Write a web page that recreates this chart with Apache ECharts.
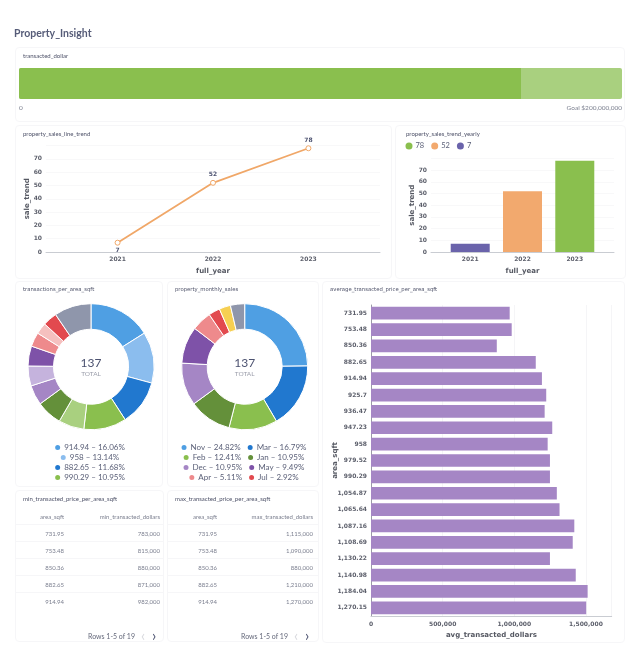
<!DOCTYPE html>
<html>
<head>
<meta charset="utf-8">
<title>Property_Insight</title>
<script src="https://cdn.jsdelivr.net/npm/echarts@6/dist/echarts.min.js"></script>
<style>
  html, body { margin: 0; padding: 0; background: #fff; }
  #page { position: relative; width: 636px; height: 650px; overflow: hidden; font-family: Lato, sans-serif; filter: blur(0.25px); }
  #heading { position: absolute; left: 14px; top: 27px; font-size: 10.5px; font-weight: 700; color: #565c78; }
  .card { position: absolute; background: #fff; border: 1px solid #f6f6f8; border-radius: 4px; box-sizing: border-box; }
  .chart { position: absolute; left: 0; top: 0; width: 100%; height: 100%; }
  .cap { position: absolute; left: 7px; top: 4px; font-size: 6px; color: #4d5168; white-space: nowrap; z-index: 2; }
  .cap.wide { font-family: "DejaVu Sans", sans-serif; font-size: 5.3px; }
  .cell { position: absolute; font-size: 6px; color: #7b7f8f; white-space: nowrap; transform: translate(-100%, -50%); }
  .rule { position: absolute; height: 1px; background: #f6f6f8; }
  .foot { position: absolute; font-size: 7px; color: #666a7c; white-space: nowrap; transform: translate(-100%, -50%); }
  .chev { position: absolute; font-size: 15px; transform: translate(-50%, -56%); }
</style>
</head>
<body>
<div id="page">
  <div id="heading">Property_Insight</div>
  <div class="card" style="left:15px;top:47px;width:610px;height:75px"><div class="cap" style="left:7px">transacted_dollar</div><div class="chart" id="bullet"></div></div>
  <div class="card" style="left:15px;top:125px;width:377px;height:154px"><div class="cap">property_sales_line_trend</div><div class="chart" id="lineTrend"></div></div>
  <div class="card" style="left:395px;top:125px;width:231px;height:154px"><div class="cap" style="left:10px">property_sales_trend_yearly</div><div class="chart" id="barTrend"></div></div>
  <div class="card" style="left:15px;top:281px;width:148px;height:206px"><div class="cap wide">transactions_per_area_sqft</div><div class="chart" id="pieArea"></div></div>
  <div class="card" style="left:167px;top:281px;width:152px;height:206px"><div class="cap wide">property_monthly_sales</div><div class="chart" id="pieMonth"></div></div>
  <div class="card" style="left:322px;top:281px;width:303px;height:362px"><div class="cap wide">average_transacted_price_per_area_sqft</div><div class="chart" id="hbar"></div></div>
  <div class="card" id="minTable" style="left:15px;top:490px;width:149px;height:152px"><div class="cap">min_transacted_price_per_area_sqft</div></div>
  <div class="card" id="maxTable" style="left:167px;top:490px;width:152px;height:152px"><div class="cap">max_transacted_price_per_area_sqft</div></div>
</div>
<script>
// data
var transacted = [166500000];
var goal = [200000000];

var years = [2021, 2022, 2023];
var saleTrend = [7, 52, 78];

var areaNames = ['914.94', '958', '882.65', '990.29', '1,087.16', '1,054.87', '947.23', '925.7', '753.48', '1,184.04', '850.36', '979.52', 'Other'];
var areaCounts = [22, 18, 16, 15, 9, 9, 7, 7, 7, 5, 4, 5, 13];
var areaLegendRows = [['914.94'], ['958'], ['882.65'], ['990.29']];

var monthNames = ['Nov', 'Mar', 'Feb', 'Jan', 'Dec', 'May', 'Apr', 'Jul', 'Jun', 'Other'];
var monthCounts = [34, 23, 17, 15, 15, 13, 7, 4, 4, 5];
var monthLegendRows = [['Nov', 'Mar'], ['Feb', 'Jan'], ['Dec', 'May'], ['Apr', 'Jul']];

var areaSqft = ['731.95', '753.48', '850.36', '882.65', '914.94', '925.7', '936.47', '947.23', '958', '979.52', '990.29', '1,054.87', '1,065.64', '1,087.16', '1,108.69', '1,130.22', '1,140.98', '1,184.04', '1,270.15'];
var avgDollars = [968000, 982000, 878000, 1150000, 1193000, 1223000, 1212000, 1265000, 1233000, 1249000, 1249000, 1297000, 1316000, 1419000, 1408000, 1249000, 1429000, 1512000, 1502000];

var tableAreas = ['731.95', '753.48', '850.36', '882.65', '914.94'];
var minDollars = ['783,000', '815,000', '880,000', '871,000', '982,000'];
var maxDollars = ['1,115,000', '1,090,000', '880,000', '1,210,000', '1,270,000'];

var colors = ['#4f9fe3', '#8bbdee', '#2178cf', '#8abf4e', '#a9d07f', '#64903a', '#a586c5', '#c5b3dd', '#7e52a8', '#ee8a8c', '#f5c0bf', '#e24a4f', '#8f96ab'];
var monthColors = ['#4f9fe3', '#2178cf', '#8abf4e', '#64903a', '#a586c5', '#7e52a8', '#ee8a8c', '#e24a4f', '#f6cf52', '#8f96ab'];

var axisFont = 'DejaVu Sans';
var tickStyle = { fontFamily: axisFont, fontSize: 6, fontWeight: 'bold', color: '#5c5f6b' };
var nameStyle = { fontFamily: axisFont, fontSize: 7, fontWeight: 'bold', color: '#555862' };

function init(id) {
  return echarts.init(document.getElementById(id), null, { renderer: 'canvas' });
}

function sum(list) {
  return list.reduce(function(a, b) { return a + b; }, 0);
}

// goal bar
init('bullet').setOption({
  animation: false,
  grid: { left: 3, right: 2, top: 20, height: 31, outerBoundsMode: 'none' },
  xAxis: {
    type: 'value', min: 0, max: goal[0],
    axisLine: { show: false }, axisTick: { show: false }, splitLine: { show: false },
    axisLabel: {
      customValues: [0, goal[0]], alignMinLabel: 'left', alignMaxLabel: 'right', margin: 5,
      fontFamily: 'Lato', fontSize: 6.5, color: '#7c8090',
      formatter: function(v) { return v === 0 ? '0' : 'Goal $' + v.toLocaleString('en-US'); }
    }
  },
  yAxis: { type: 'category', data: ['transacted_dollar'], show: false },
  series: [
    { type: 'bar', data: goal, barWidth: 31, barGap: '-100%', itemStyle: { color: '#a9d07f', borderRadius: 2 } },
    { type: 'bar', data: transacted, barWidth: 31, barGap: '-100%', itemStyle: { color: '#8abf4e', borderRadius: [2, 0, 0, 2] } }
  ]
});

function yearAxis() {
  return {
    type: 'value', min: 2020.25, max: 2023.75,
    name: 'full_year', nameLocation: 'middle', nameGap: 16, nameMoveOverlap: false, nameTextStyle: nameStyle,
    axisLine: { lineStyle: { color: '#c9ccd2' } },
    axisTick: { show: false },
    splitLine: { show: false },
    axisLabel: Object.assign({ customValues: years, margin: 4, formatter: function(v) { return String(v); } }, tickStyle)
  };
}

function saleAxis(gap) {
  return {
    type: 'value', min: 0, max: 80, interval: 10,
    name: 'sale_trend', nameLocation: 'middle', nameGap: gap, nameMoveOverlap: false, nameTextStyle: nameStyle,
    axisLine: { show: false }, axisTick: { show: false },
    splitLine: { lineStyle: { color: '#f8f8f9' } },
    axisLabel: Object.assign({ showMaxLabel: false, margin: 4 }, tickStyle)
  };
}

// yearly line
init('lineTrend').setOption({
  animation: false,
  grid: { left: 30, right: 11, top: 19.6, height: 106.4, outerBoundsMode: 'none' },
  xAxis: yearAxis(),
  yAxis: saleAxis(15),
  series: [{
    type: 'line',
    data: years.map(function(y, i) {
      return {
        value: [y, saleTrend[i]],
        label: { position: i === 0 ? 'bottom' : 'top', distance: 2 }
      };
    }),
    symbol: 'circle', symbolSize: 5,
    lineStyle: { color: '#f0a768', width: 1.8 },
    itemStyle: { color: '#fff', borderColor: '#f0a768', borderWidth: 1 },
    label: {
      show: true, fontFamily: axisFont, fontSize: 6, fontWeight: 'bold', color: '#4c5270',
      formatter: function(p) { return String(p.value[1]); }
    }
  }]
});

// yearly bars, one series per legend entry
var barColors = { 2021: '#6a63ab', 2022: '#f2a96e', 2023: '#8abf4e' };
init('barTrend').setOption({
  animation: false,
  grid: { left: 35, right: 11, top: 32.4, height: 93.6, outerBoundsMode: 'none' },
  legend: {
    left: 9.5, top: 16, padding: 0, icon: 'circle', itemWidth: 7, itemHeight: 7, itemGap: 7,
    data: [String(saleTrend[2]), String(saleTrend[1]), String(saleTrend[0])],
    textStyle: { fontFamily: 'Lato', fontSize: 7.5, color: '#5b6078', padding: [0, 0, 0, -2] }
  },
  xAxis: yearAxis(),
  yAxis: saleAxis(15),
  series: years.map(function(y, i) {
    return {
      type: 'bar', name: String(saleTrend[i]), barWidth: 39, barGap: '-100%',
      data: [[y, saleTrend[i]]], itemStyle: { color: barColors[y] }
    };
  })
});

function donut(id, names, counts, palette, rows, cx) {
  var total = sum(counts);
  var legendTop = [161, 171, 181, 191];
  init(id).setOption({
    animation: false,
    color: palette,
    legend: rows.map(function(row, i) {
      return {
        left: 'center', top: legendTop[i], padding: 0, icon: 'circle', itemWidth: 7, itemHeight: 7, itemGap: 5,
        data: row,
        formatter: function(name) {
          var pct = counts[names.indexOf(name)] / total * 100;
          return name + ' – ' + pct.toFixed(2) + '%';
        },
        textStyle: { fontFamily: 'Lato', fontSize: 8, color: '#5b6078', padding: [0, 0, 0, -2] }
      };
    }),
    graphic: [
      { type: 'text', x: cx, y: 81.5, style: { text: String(total), align: 'center', verticalAlign: 'middle', fontFamily: 'Lato', fontSize: 12, fill: '#4c5270' } },
      { type: 'text', x: cx, y: 92, style: { text: 'TOTAL', align: 'center', verticalAlign: 'middle', fontFamily: 'Lato', fontSize: 6.5, fill: '#9a9daa' } }
    ],
    series: [{
      type: 'pie', center: [cx, 84.7], radius: [37.5, 63],
      label: { show: false }, labelLine: { show: false },
      itemStyle: { borderColor: '#fff', borderWidth: 1 },
      data: names.map(function(n, i) { return { name: n, value: counts[i] }; })
    }]
  });
}
donut('pieArea', areaNames, areaCounts, colors, areaLegendRows, 75);
donut('pieMonth', monthNames, monthCounts, monthColors, monthLegendRows, 76.7);

// average price per area
init('hbar').setOption({
  animation: false,
  grid: { left: 48, right: 12.3, top: 23, height: 311, outerBoundsMode: 'none' },
  xAxis: {
    type: 'value', min: 0, max: 1680000, interval: 500000,
    name: 'avg_transacted_dollars', nameLocation: 'middle', nameGap: 16, nameMoveOverlap: false, nameTextStyle: nameStyle,
    axisLine: { show: true, lineStyle: { color: '#c9ccd2' } }, axisTick: { show: false },
    splitLine: { lineStyle: { color: '#f5f5f7' } },
    axisLabel: Object.assign({ showMaxLabel: false, margin: 5 }, tickStyle)
  },
  yAxis: {
    type: 'category', inverse: true, data: areaSqft,
    name: 'area_sqft', nameLocation: 'middle', nameGap: 32, nameMoveOverlap: false, nameTextStyle: nameStyle,
    axisLine: { lineStyle: { color: '#9a9ca5' } }, axisTick: { show: false },
    axisLabel: Object.assign({ margin: 4, interval: 0 }, tickStyle)
  },
  series: [{ type: 'bar', data: avgDollars, barWidth: 12.7, itemStyle: { color: '#a586c5' } }]
});

// tables
function fillTable(id, valueHead, values, col1, col2, footEnd, chevA, chevB, width) {
  var card = document.getElementById(id);
  function add(cls, text, x, y, css) {
    var el = document.createElement('div');
    el.className = cls;
    el.textContent = text;
    el.style.left = x + 'px';
    el.style.top = y + 'px';
    if (css) el.style.cssText += css;
    card.appendChild(el);
  }
  add('cell', 'area_sqft', col1, 25);
  add('cell', valueHead, col2, 25);
  add('rule', '', 0, 33, 'width:' + width + 'px');
  tableAreas.forEach(function(a, i) {
    var y = 42 + i * 17;
    add('cell', a, col1, y);
    add('cell', values[i], col2, y);
    if (i < 4) add('rule', '', 0, y + 8, 'width:' + width + 'px');
  });
  add('foot', 'Rows 1-5 of ' + areaSqft.length, footEnd, 145);
  add('chev', '‹', chevA, 145, 'color:#d8d9de');
  add('chev', '›', chevB, 145, 'color:#4c5270');
}
fillTable('minTable', 'min_transacted_dollars', minDollars, 48, 144, 119, 127, 138, 147);
fillTable('maxTable', 'max_transacted_dollars', maxDollars, 49, 145, 120, 128, 139, 150);
</script>
</body>
</html>
